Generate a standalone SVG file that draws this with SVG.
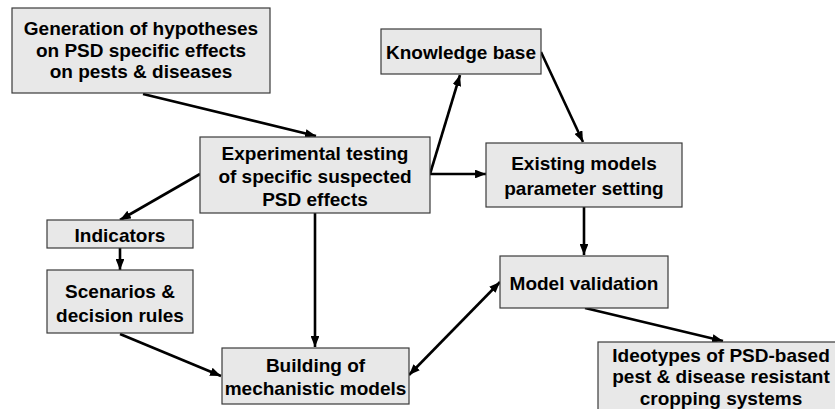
<svg xmlns="http://www.w3.org/2000/svg" width="835" height="409" viewBox="0 0 835 409">
<defs>
<style>
.box{fill:#e8e8e8;stroke:#3a3a3a;stroke-width:1.2}
.t{font-family:"Liberation Sans",Arial,sans-serif;font-weight:bold;font-size:19px;fill:#000;text-anchor:middle}
.c{stroke:#000;stroke-width:2.6;fill:none;marker-end:url(#ah)}
</style>
<marker id="ah" viewBox="0 0 10 8" refX="10" refY="4" markerWidth="4.2" markerHeight="3.4" orient="auto" markerUnits="strokeWidth">
<path d="M0,0 L10,4 L0,8 Z" fill="#000"/>
</marker>
<marker id="as" viewBox="0 0 10 8" refX="0" refY="4" markerWidth="4.2" markerHeight="3.4" orient="auto" markerUnits="strokeWidth">
<path d="M10,0 L0,4 L10,8 Z" fill="#000"/>
</marker>
</defs>
<rect width="835" height="409" fill="#fff"/>
<g id="connectors">
<line class="c" x1="143" y1="94" x2="316" y2="136"/>
<line class="c" x1="430" y1="174" x2="486" y2="174"/>
<line class="c" x1="430" y1="174" x2="460" y2="75"/>
<line class="c" x1="541" y1="52" x2="583" y2="142"/>
<line class="c" x1="584" y1="207" x2="584" y2="255"/>
<line class="c" x1="585" y1="308" x2="723" y2="341"/>
<line class="c" x1="200" y1="174" x2="120" y2="220"/>
<line class="c" x1="120" y1="248" x2="120" y2="270"/>
<line class="c" x1="120" y1="334" x2="221" y2="376"/>
<line class="c" x1="315" y1="213" x2="315" y2="347"/>
<line class="c" x1="409" y1="375" x2="500" y2="282" marker-start="url(#as)"/>
</g>
<g id="generation">
<rect class="box" x="12" y="8" width="258" height="85"/>
<text class="t" x="141" y="35">Generation of hypotheses</text>
<text class="t" x="141" y="57">on PSD specific effects</text>
<text class="t" x="141" y="78">on pests &amp; diseases</text>
</g>
<g id="experimental">
<rect class="box" x="200" y="137" width="230" height="76"/>
<text class="t" x="315" y="160">Experimental testing</text>
<text class="t" x="315" y="183">of specific suspected</text>
<text class="t" x="315" y="206">PSD effects</text>
</g>
<g id="knowledge">
<rect class="box" x="381" y="29" width="160" height="45"/>
<text class="t" x="461" y="59">Knowledge base</text>
</g>
<g id="existing">
<rect class="box" x="486" y="143" width="196" height="64"/>
<text class="t" x="584" y="170">Existing models</text>
<text class="t" x="584" y="195">parameter setting</text>
</g>
<g id="indicators">
<rect class="box" x="47" y="220" width="146" height="28"/>
<text class="t" x="120" y="242">Indicators</text>
</g>
<g id="scenarios">
<rect class="box" x="47" y="270" width="146" height="63"/>
<text class="t" x="120" y="298">Scenarios &amp;</text>
<text class="t" x="120" y="322">decision rules</text>
</g>
<g id="building">
<rect class="box" x="222" y="348" width="187" height="56"/>
<text class="t" x="315.5" y="372">Building of</text>
<text class="t" x="315.5" y="395">mechanistic models</text>
</g>
<g id="validation">
<rect class="box" x="500" y="256" width="168" height="52"/>
<text class="t" x="584" y="290">Model validation</text>
</g>
<g id="ideotypes">
<rect class="box" x="598" y="342" width="246" height="80"/>
<text class="t" x="721" y="362">Ideotypes of PSD-based</text>
<text class="t" x="721" y="383">pest &amp; disease resistant</text>
<text class="t" x="721" y="405">cropping systems</text>
</g>
</svg>
